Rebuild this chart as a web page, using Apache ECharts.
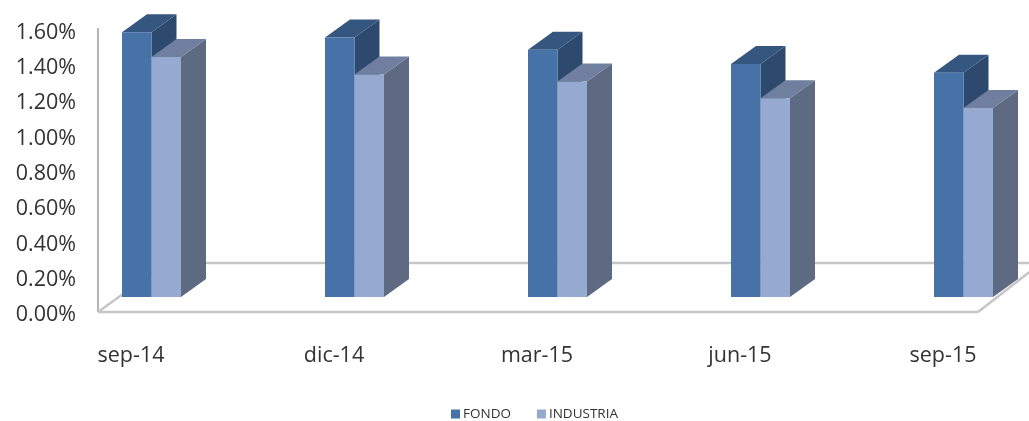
<!DOCTYPE html>
<html>
<head>
<meta charset="utf-8">
<style>
  html, body { margin: 0; padding: 0; background: #fff; }
  #chart { width: 1029px; height: 421px; }
</style>
<script src="https://cdn.jsdelivr.net/npm/echarts@6/dist/echarts.min.js"></script>
</head>
<body>
<div id="chart"></div>
<script>
const categories = ["sep-14", "dic-14", "mar-15", "jun-15", "sep-15"];
const fondo = [1.5, 1.47, 1.4, 1.32, 1.27];
const industria = [1.36, 1.26, 1.22, 1.125, 1.07];

const chart = echarts.init(document.getElementById("chart"));

// fake 3d look, all in pixels relative to the axis scales
const barW = 29.5;
const depthX = 25;
const depthY = 18;
const baseLift = 18; // bars stand inside the floor, not on the front edge
const labelShift = -9; // bars start a bit left of the label centre

const poly = (points, fill) => ({
  type: "polygon",
  shape: { points: points },
  style: { fill: fill },
});

const barRender = (slot, colors) => (params, api) => {
  const top = api.coord([api.value(0), api.value(1)]);
  const bottom = api.coord([api.value(0), 0]);
  const x = top[0] + labelShift + slot * barW;
  const yTop = top[1] - baseLift;
  const yBase = bottom[1] - baseLift;
  return {
    type: "group",
    children: [
      poly([[x + barW, yTop], [x + barW + depthX, yTop - depthY], [x + barW + depthX, yBase - depthY], [x + barW, yBase]], colors.side),
      poly([[x, yTop], [x + depthX, yTop - depthY], [x + barW + depthX, yTop - depthY], [x + barW, yTop]], colors.top),
      poly([[x, yTop], [x + barW, yTop], [x + barW, yBase], [x, yBase]], colors.front),
    ],
  };
};

// floor of the 3d box and the wall edge on the left
const floorRender = (params, api) => {
  const sys = params.coordSys;
  const y = api.coord([0, 0])[1] - 3;
  const left = sys.x - 33;
  const right = left + 880;
  const line = (x1, y1, x2, y2, stroke, lineWidth) => ({
    type: "line",
    shape: { x1, y1, x2, y2 },
    style: { stroke: stroke || "#c6c6c6", lineWidth: lineWidth || 2.5 },
  });
  return {
    type: "group",
    children: [
      line(left, y, left, y - 284, "#b4b4b4", 2),
      line(left, y, right, y),
      line(left, y, left + 68, y - 49),
      line(right, y, right + 63, y - 49),
      line(left + 68, y - 49, right + 63, y - 49),
    ],
  };
};

const option = {
  backgroundColor: "#fff",
  textStyle: { fontFamily: "Open Sans" },
  grid: { left: 131, right: 86, top: 32.5, bottom: 106 },
  legend: {
    data: ["FONDO", "INDUSTRIA"],
    top: 402,
    left: 446,
    itemWidth: 9,
    itemHeight: 9,
    itemGap: 26,
    icon: "rect",
    textStyle: { fontSize: 13.5, color: "#333", padding: [0, 0, 0, -2] },
  },
  xAxis: {
    type: "category",
    data: categories,
    boundaryGap: false,
    axisLine: { show: false },
    axisTick: { show: false },
    axisLabel: { fontSize: 21.5, color: "#333", margin: 30, interval: 0 },
  },
  yAxis: {
    type: "value",
    min: 0,
    max: 1.6,
    interval: 0.2,
    offset: 33,
    axisLine: { show: false },
    axisTick: { show: false },
    splitLine: { show: false },
    axisLabel: {
      fontSize: 21.5,
      color: "#333",
      margin: 22,
      formatter: (v) => v.toFixed(2) + "%",
    },
  },
  series: [
    {
      name: "floor",
      type: "custom",
      renderItem: floorRender,
      data: [[0, 0]],
      silent: true,
      z: 1,
    },
    {
      name: "FONDO",
      type: "custom",
      renderItem: barRender(0, { front: "#4672a8", top: "#34567f", side: "#2d4a6e" }),
      data: fondo.map((v, i) => [i, v]),
      itemStyle: { color: "#4672a8" },
      z: 2,
    },
    {
      name: "INDUSTRIA",
      type: "custom",
      renderItem: barRender(1, { front: "#96a9d0", top: "#707f9f", side: "#5e6a82" }),
      data: industria.map((v, i) => [i, v]),
      itemStyle: { color: "#96a9d0" },
      z: 3,
    },
  ],
};

chart.setOption(option);
window.addEventListener("resize", chart.resize);
</script>
</body>
</html>
